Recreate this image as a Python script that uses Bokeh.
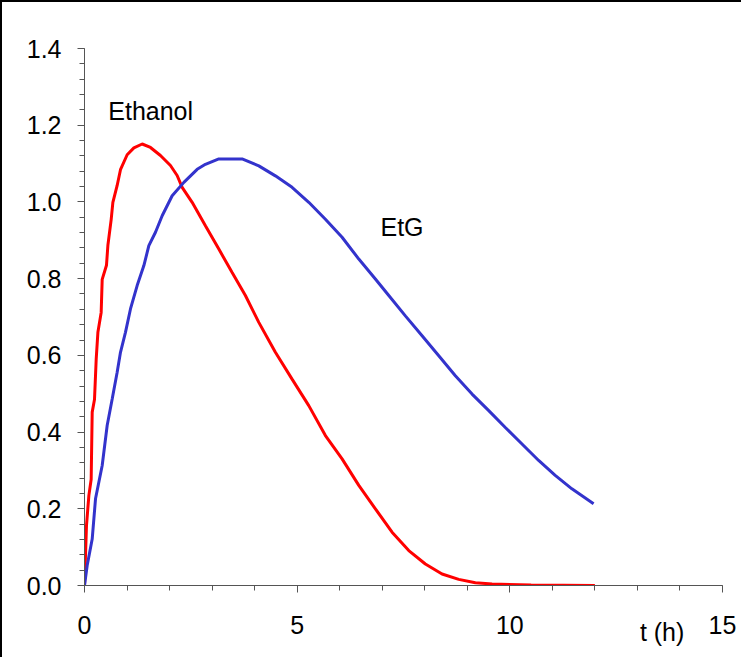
from bokeh.plotting import figure
from bokeh.models import Range1d, FixedTicker, PrintfTickFormatter, Label, LinearAxis
from bokeh.embed import file_html
from bokeh.resources import INLINE

# Ethanol curve (t in h, concentration)
eth_t = [0.0, 0.047, 0.103, 0.157, 0.181, 0.235, 0.275, 0.315, 0.392, 0.416, 0.517, 0.550,
         0.627, 0.667, 0.768, 0.846, 1.003, 1.161, 1.356, 1.551, 1.786, 2.021, 2.178, 2.296,
         2.531, 2.843, 3.158, 3.471, 3.783, 4.098, 4.488, 4.880, 5.273, 5.664, 6.056, 6.449,
         6.839, 7.231, 7.624, 8.014, 8.406, 8.799, 9.189, 9.582, 10.5, 12.0]
eth_c = [0.0, 0.157, 0.235, 0.277, 0.452, 0.485, 0.590, 0.660, 0.712, 0.798, 0.835, 0.887,
         0.954, 0.999, 1.043, 1.084, 1.123, 1.141, 1.151, 1.142, 1.121, 1.095, 1.069, 1.038,
         0.999, 0.938, 0.877, 0.816, 0.756, 0.686, 0.608, 0.538, 0.469, 0.391, 0.330, 0.261,
         0.200, 0.139, 0.091, 0.056, 0.030, 0.016, 0.007, 0.004, 0.001, 0.0]

# EtG curve
etg_t = [0.0, 0.063, 0.181, 0.259, 0.416, 0.533, 0.651, 0.768, 0.846, 0.963, 1.081, 1.238,
         1.396, 1.513, 1.669, 1.826, 2.061, 2.336, 2.649, 2.843, 3.158, 3.705, 4.098, 4.488,
         4.880, 5.273, 5.664, 6.056, 6.449, 6.839, 7.154, 7.544, 7.937, 8.329, 8.719, 9.112,
         9.504, 9.894, 10.286, 10.677, 11.067, 11.459, 11.969]
etg_c = [0.0, 0.052, 0.121, 0.226, 0.313, 0.417, 0.486, 0.556, 0.608, 0.660, 0.721, 0.782,
         0.834, 0.886, 0.921, 0.964, 1.016, 1.051, 1.085, 1.098, 1.112, 1.112, 1.094, 1.068,
         1.038, 0.999, 0.955, 0.908, 0.851, 0.799, 0.756, 0.703, 0.651, 0.599, 0.547, 0.499,
         0.456, 0.412, 0.369, 0.326, 0.287, 0.252, 0.213]

x_ticks = [0, 5, 10, 15]
x_minor = list(range(0, 16))
y_ticks = [0.0, 0.2, 0.4, 0.6, 0.8, 1.0, 1.2, 1.4]
y_minor = [round(i * 0.04, 2) for i in range(36)]
series_labels = ["Ethanol", "EtG"]
x_label = "t (h)"
x_label_pos = 13.58

FONT = "Liberation Sans"
FS = "25px"

p = figure(width=741, height=657, output_backend="svg", toolbar_location=None,
           x_range=Range1d(0, 15), y_range=Range1d(0, 1.4),
           min_border_left=82, min_border_top=46, min_border_right=21, min_border_bottom=74)
p.styles = {"border-left": "2px solid #000000", "border-top": "2px solid #000000"}
p.outline_line_color = None
p.grid.visible = False

p.xaxis.ticker = FixedTicker(ticks=x_ticks, minor_ticks=x_minor)
p.yaxis.ticker = FixedTicker(ticks=y_ticks, minor_ticks=y_minor)
p.yaxis.formatter = PrintfTickFormatter(format="%.1f")

for ax in (p.xaxis[0], p.yaxis[0]):
    ax.axis_line_color = "#555555"
    ax.major_tick_line_color = "#555555"
    ax.minor_tick_line_color = "#555555"
    ax.major_tick_out = 7
    ax.major_tick_in = 0
    ax.minor_tick_out = 5
    ax.minor_tick_in = 0
    ax.major_label_text_font = FONT
    ax.major_label_text_font_size = FS
    ax.major_label_text_color = "#000000"
p.yaxis.major_label_standoff = 16
p.xaxis.major_label_standoff = 23

# secondary axis used only to carry the "t (h)" label
lab_axis = LinearAxis(ticker=FixedTicker(ticks=[x_label_pos], minor_ticks=[]),
                      major_label_overrides={x_label_pos: x_label})
lab_axis.axis_line_color = None
lab_axis.major_tick_line_color = None
lab_axis.minor_tick_line_color = None
lab_axis.major_tick_out = 0
lab_axis.major_tick_in = 0
lab_axis.major_label_standoff = -19
lab_axis.major_label_text_font = FONT
lab_axis.major_label_text_font_size = FS
lab_axis.major_label_text_color = "#000000"
p.add_layout(lab_axis, "below")

p.line(eth_t, eth_c, line_color="#FF0000", line_width=3)
p.line(etg_t, etg_c, line_color="#3333CC", line_width=3)

p.add_layout(Label(x=1.556, y=1.236, text=series_labels[0], text_align="center", text_baseline="middle",
                   text_font=FONT, text_font_size=FS, text_color="#000000"))
p.add_layout(Label(x=7.465, y=0.934, text=series_labels[1], text_align="center", text_baseline="middle",
                   text_font=FONT, text_font_size=FS, text_color="#000000"))

open("out.html", "w").write(file_html(p, INLINE))
